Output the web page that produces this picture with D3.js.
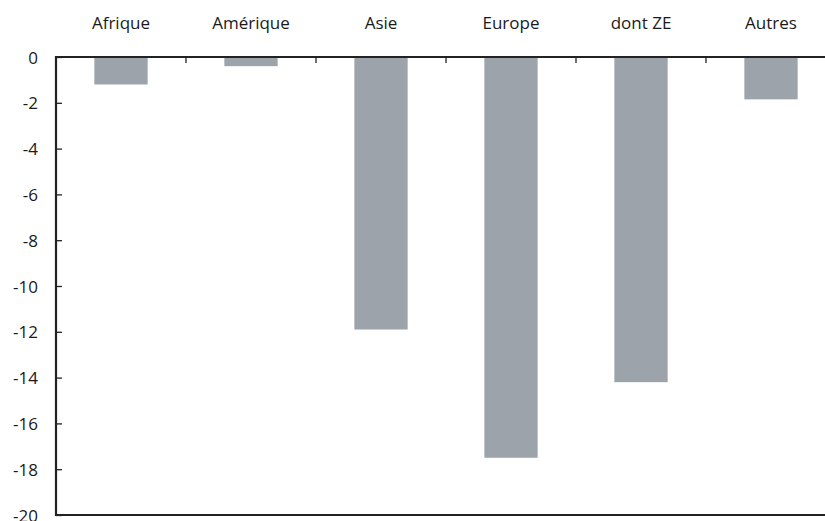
<!DOCTYPE html>
<html>
<head>
<meta charset="utf-8">
<script src="https://cdn.jsdelivr.net/npm/d3@7"></script>
<style>
  body { margin: 0; background: #fff; }
  .chart text { font-family: 'Open Sans', 'Noto Sans', sans-serif; fill: #1a1a1a; }
</style>
</head>
<body>
<div class="chart"></div>
<script>
// chart data
var categories = ['Afrique', 'Amérique', 'Asie', 'Europe', 'dont ZE', 'Autres'];
var values = [-1.2, -0.4, -11.9, -17.5, -14.2, -1.85];
var yTicks = [0, -2, -4, -6, -8, -10, -12, -14, -16, -18, -20];

// set up chart size
var svgWidth = 825;
var svgHeight = 521;

var margin = { top: 57, left: 56 };
var plotBottom = 515;
var plotRight = 836;

var svg = d3
	.select('.chart')
	.append('svg')
	.attr('width', svgWidth)
	.attr('height', svgHeight);

var chart = svg.append('g');

// scales
var x = d3.scaleBand()
	.domain(categories)
	.range([margin.left, plotRight])
	.paddingInner(0.59)
	.paddingOuter(0.295);

var y = d3.scaleLinear()
	.domain([0, -20])
	.range([margin.top, plotBottom]);

// bars
chart.selectAll('rect')
	.data(values)
	.enter()
	.append('rect')
	.attr('x', function(d, i) { return x(categories[i]); })
	.attr('y', y(0))
	.attr('width', x.bandwidth())
	.attr('height', function(d) { return y(d) - y(0); })
	.attr('fill', '#9ca3aa');

// y axis (plain hyphen for the minus sign, as in the source)
var leftAxis = d3.axisRight(y)
	.tickValues(yTicks)
	.tickSize(6)
	.tickFormat(function(d) { return String(d); });

var yAxis = chart.append('g')
	.attr('transform', 'translate(' + margin.left + ',0)')
	.call(leftAxis);

yAxis.select('.domain').remove();
yAxis.selectAll('.tick line').attr('stroke', '#222').attr('stroke-width', 1.3);
yAxis.selectAll('.tick text')
	.attr('x', -18)
	.attr('dy', '0.36em')
	.style('text-anchor', 'end')
	.style('font-size', '17px');

chart.append('line')
	.attr('x1', margin.left).attr('x2', margin.left)
	.attr('y1', y(0) - 1).attr('y2', plotBottom + 1)
	.attr('stroke', '#222').attr('stroke-width', 2.2);

// bottom frame line at -20
chart.append('line')
	.attr('x1', margin.left).attr('x2', plotRight)
	.attr('y1', plotBottom).attr('y2', plotBottom)
	.attr('stroke', '#222').attr('stroke-width', 2);

// zero line with category ticks between bars
var step = x.step();
var boundaries = categories.slice(1).map(function(c) {
	return x(c) - x.paddingInner() * step / 2;
});

chart.selectAll('.sep')
	.data(boundaries)
	.enter()
	.append('line')
	.attr('class', 'sep')
	.attr('x1', function(d) { return d; })
	.attr('x2', function(d) { return d; })
	.attr('y1', y(0))
	.attr('y2', y(0) + 6)
	.attr('stroke', '#222')
	.attr('stroke-width', 1.3);

chart.append('line')
	.attr('x1', margin.left).attr('x2', plotRight)
	.attr('y1', y(0)).attr('y2', y(0))
	.attr('stroke', '#222').attr('stroke-width', 2.2);

// category labels above the plot
chart.selectAll('.cat')
	.data(categories)
	.enter()
	.append('text')
	.attr('class', 'cat')
	.attr('x', function(d) { return x(d) + x.bandwidth() / 2; })
	.attr('y', 29)
	.style('text-anchor', 'middle')
	.style('font-size', '17px')
	.text(function(d) { return d; });
</script>
</body>
</html>
